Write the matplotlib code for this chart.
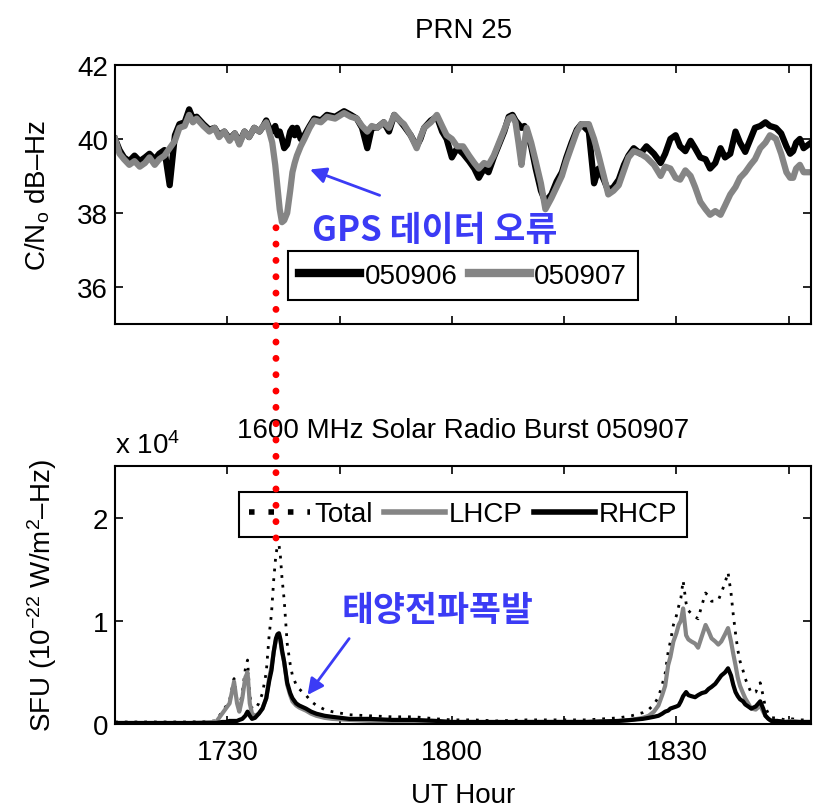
#!/usr/bin/env python

import matplotlib
matplotlib.use("Agg")
import matplotlib.pyplot as plt

# minutes after 17:00 UT
t_cn = [15.0, 15.6, 16.2, 16.9, 17.6, 18.3, 19.0, 19.6, 20.3, 20.9,
	21.6, 22.3, 23.0, 23.6, 24.3, 24.9, 25.4, 25.9, 26.8, 27.6,
	28.3, 28.9, 29.6, 30.3, 31.0, 31.6, 32.3, 32.9, 33.6, 34.3,
	34.8, 35.2, 35.6, 36.0, 36.4, 36.7, 37.0, 37.3, 37.6, 38.0,
	38.4, 38.7, 39.0, 39.3, 39.8, 40.3, 41.0, 41.6, 42.5, 43.3,
	44.4, 45.6, 46.5, 47.3, 48.0, 48.7, 49.3, 50.0, 50.9, 51.6,
	52.3, 53.0, 53.6, 54.5, 55.3, 55.8, 56.3, 57.2, 58.0, 58.7,
	59.3, 60.0, 60.7, 61.5, 62.3, 63.0, 63.6, 64.3, 64.9, 65.6,
	66.3, 67.0, 67.6, 68.1, 68.5, 68.9, 69.3, 69.7, 70.0, 70.6,
	71.2, 71.9, 72.5, 73.3, 74.0, 74.7, 75.3, 76.0, 76.7, 77.3,
	78.3, 79.0, 79.6, 80.3, 80.9, 81.6, 82.3, 83.0, 83.6, 84.3,
	85.2, 86.0, 87.0, 87.9, 88.5, 89.2, 89.9, 90.5, 91.2, 91.9,
	92.5, 93.2, 93.9, 94.5, 95.2, 95.9, 96.5, 97.2, 97.9, 98.5,
	99.2, 99.9, 100.5, 101.2, 101.9, 102.5, 103.3, 104.0, 104.7, 105.2,
	105.6, 106.0, 106.5, 107.0, 108.0]

cn_050906 = [40.0, 39.7, 39.5, 39.4, 39.55, 39.4, 39.5, 39.6, 39.45, 39.6,
	39.7, 38.75, 40.1, 40.4, 40.45, 40.8, 40.55, 40.6, 40.4, 40.25,
	40.3, 40.1, 40.2, 40.0, 40.15, 39.9, 40.2, 40.05, 40.3, 40.2,
	40.35, 40.5, 40.3, 40.2, 40.35, 40.1, 40.2, 40.0, 39.75, 39.85,
	40.2, 40.3, 40.1, 40.3, 40.0, 40.1, 40.35, 40.55, 40.5, 40.65,
	40.6, 40.75, 40.65, 40.55, 40.3, 39.75, 40.3, 40.3, 40.45, 40.2,
	40.65, 40.5, 40.35, 40.1, 39.8, 40.0, 40.3, 40.5, 40.6, 40.2,
	40.0, 39.5, 39.75, 39.6, 39.4, 39.2, 38.95, 39.2, 39.1, 39.5,
	39.85, 40.2, 40.6, 40.65, 40.5, 40.4, 40.3, 40.35, 40.2, 39.8,
	39.2, 38.6, 38.3, 38.5, 38.85, 39.1, 39.5, 39.9, 40.25, 40.4,
	40.2, 38.8, 39.2, 38.9, 38.6, 38.7, 38.9, 39.3, 39.55, 39.75,
	39.6, 39.8, 39.6, 39.35, 39.6, 40.0, 40.1, 39.8, 39.67, 39.95,
	39.75, 39.5, 39.45, 39.2, 39.35, 39.75, 39.5, 39.6, 40.2, 39.9,
	39.65, 40.0, 40.3, 40.35, 40.45, 40.35, 40.3, 40.15, 39.8, 39.6,
	39.67, 39.9, 40.0, 39.75, 39.9]

cn_050907 = [40.0, 39.6, 39.45, 39.3, 39.4, 39.25, 39.35, 39.5, 39.3, 39.45,
	39.55, 39.75, 39.95, 40.3, 40.35, 40.65, 40.45, 40.55, 40.35, 40.2,
	40.3, 40.05, 40.2, 39.95, 40.15, 39.85, 40.2, 40.05, 40.3, 40.2,
	40.35, 40.45, 40.2, 39.9, 39.3, 38.7, 38.1, 37.75, 37.8, 38.0,
	38.6, 39.1, 39.35, 39.55, 39.8, 40.0, 40.3, 40.5, 40.45, 40.6,
	40.55, 40.7, 40.6, 40.55, 40.35, 40.2, 40.35, 40.3, 40.45, 40.3,
	40.65, 40.5, 40.4, 40.1, 39.75, 40.05, 40.3, 40.45, 40.65, 40.35,
	40.1, 40.0, 39.8, 39.8, 39.55, 39.35, 39.2, 39.35, 39.3, 39.55,
	39.9, 40.25, 40.55, 40.6, 40.45, 39.9, 39.3, 39.9, 40.3, 39.9,
	39.4, 38.8, 38.1, 38.4, 38.7, 39.0, 39.4, 39.8, 40.2, 40.4,
	40.4, 40.0, 39.56, 39.0, 38.5, 38.6, 38.75, 39.15, 39.5, 39.67,
	39.6, 39.5, 39.3, 39.0, 39.25, 39.2, 38.95, 38.9, 39.15, 39.0,
	38.7, 38.3, 38.1, 37.95, 38.05, 37.95, 38.2, 38.5, 38.7, 38.95,
	39.1, 39.3, 39.45, 39.75, 39.9, 40.1, 40.0, 39.6, 39.1, 38.95,
	38.95, 39.2, 39.3, 39.1, 39.1]

t_sfu = [15, 20, 25, 28.5, 29.3, 29.8, 30.3, 30.9, 31.3, 31.6,
	32.0, 32.4, 32.7, 33.0, 33.3, 33.7, 34.2, 34.7, 35.2, 35.6,
	35.9, 36.2, 36.5, 36.7, 36.9, 37.1, 37.3, 37.6, 38.0, 38.4,
	38.7, 39.2, 39.6, 40.5, 41.2, 41.9, 43.0, 44.0, 46.3, 49.0,
	52.0, 55.0, 58.0, 60.0, 63.0, 66.0, 70.0, 74.0, 78.0, 82.3,
	84.0, 85.5, 86.3, 87.0, 87.6, 88.1, 88.5, 88.9, 89.2, 89.6,
	90.0, 90.3, 90.6, 90.9, 91.3, 91.6, 92.0, 92.5, 92.9, 93.4,
	93.9, 94.3, 94.7, 95.2, 95.6, 96.0, 96.5, 96.9, 97.3, 97.6,
	97.9, 98.2, 98.5, 98.9, 99.2, 99.6, 100.0, 100.6, 101.2, 101.6,
	101.9, 102.3, 102.7, 103.5, 104.5, 105.5, 106.5, 107.5, 108.0]

# units of 1e4 SFU
lhcp = [0.01, 0.01, 0.01, 0.02, 0.10, 0.15, 0.20, 0.41, 0.20, 0.12,
	0.25, 0.45, 0.50, 0.20, 0.10, 0.08, 0.10, 0.15, 0.25, 0.45,
	0.55, 0.70, 0.82, 0.85, 0.86, 0.80, 0.70, 0.60, 0.38, 0.28,
	0.22, 0.18, 0.16, 0.13, 0.10, 0.08, 0.06, 0.05, 0.04, 0.03,
	0.03, 0.03, 0.02, 0.02, 0.02, 0.01, 0.02, 0.02, 0.02, 0.03,
	0.04, 0.06, 0.08, 0.12, 0.18, 0.28, 0.37, 0.57, 0.65, 0.80,
	0.88, 0.96, 1.00, 1.12, 0.86, 0.82, 0.80, 0.78, 0.74, 0.85,
	0.96, 0.90, 0.83, 0.80, 0.77, 0.80, 0.87, 0.93, 0.80, 0.68,
	0.57, 0.45, 0.37, 0.30, 0.25, 0.20, 0.15, 0.14, 0.18, 0.12,
	0.08, 0.05, 0.03, 0.03, 0.02, 0.03, 0.02, 0.02, 0.02]

rhcp = [0.01, 0.01, 0.01, 0.01, 0.02, 0.02, 0.03, 0.03, 0.03, 0.04,
	0.05, 0.08, 0.12, 0.08, 0.05, 0.06, 0.10, 0.15, 0.25, 0.42,
	0.52, 0.70, 0.83, 0.87, 0.88, 0.82, 0.72, 0.60, 0.40, 0.30,
	0.25, 0.20, 0.18, 0.15, 0.12, 0.10, 0.08, 0.07, 0.05, 0.05,
	0.04, 0.04, 0.03, 0.02, 0.02, 0.02, 0.02, 0.02, 0.02, 0.03,
	0.04, 0.05, 0.06, 0.07, 0.08, 0.10, 0.12, 0.13, 0.15, 0.16,
	0.17, 0.18, 0.22, 0.27, 0.31, 0.28, 0.27, 0.26, 0.28, 0.30,
	0.31, 0.34, 0.36, 0.39, 0.43, 0.47, 0.50, 0.54, 0.47, 0.38,
	0.31, 0.27, 0.24, 0.22, 0.19, 0.17, 0.15, 0.17, 0.22, 0.15,
	0.08, 0.05, 0.03, 0.03, 0.02, 0.02, 0.02, 0.02, 0.02]

xticks = [30, 45, 60, 75, 90, 105]
xticklabels = ["1730", "", "1800", "", "1830", ""]

plt.rcParams["font.family"] = ["Liberation Sans", "DejaVu Sans"]
plt.rcParams["mathtext.fontset"] = "custom"
plt.rcParams["mathtext.rm"] = "Liberation Sans"
plt.rcParams["mathtext.it"] = "Liberation Sans"
plt.rcParams["mathtext.default"] = "regular"
fs = 20

kr = ["Noto Sans CJK KR", "DejaVu Sans"]
blue = "#3b3bf5"
gray = "#858585"

fig = plt.figure(figsize=(8.16, 8.12), dpi=100)
ax1 = fig.add_axes([0.141, 0.5998, 0.853, 0.319])
ax2 = fig.add_axes([0.141, 0.1071, 0.853, 0.3177])

for ax in (ax1, ax2):
	ax.tick_params(direction="in", top=True, right=True, length=6, width=1.2, labelsize=fs)
	ax.tick_params(axis="x", pad=11)
	ax.tick_params(axis="y", pad=5)
	for s in ax.spines.values():
		s.set_linewidth(1.5)
	ax.set_xlim(15, 108)
	ax.set_xticks(xticks)

# top panel
ax1.plot(t_cn, cn_050906, color="black", lw=4.5, label="050906")
ax1.plot(t_cn, cn_050907, color=gray, lw=4.5, label="050907")
ax1.set_ylim(35, 42)
ax1.set_yticks([36, 38, 40, 42])
ax1.set_xticklabels([])
ax1.set_title("PRN 25", fontsize=fs, pad=20)
ax1.set_ylabel("C/N$_o$ dB\u2013Hz", fontsize=fs, labelpad=18)
leg1 = ax1.legend(loc="lower center", bbox_to_anchor=(0.5, 0.04), ncol=2, fancybox=False,
	edgecolor="black", framealpha=1, handlelength=2.2, columnspacing=0.4,
	handletextpad=0.15, borderpad=0.4, fontsize=fs)
leg1.get_frame().set_linewidth(1.5)
for l in leg1.get_lines():
	l.set_linewidth(6)

ax1.annotate("GPS 데이터 오류", xy=(40.7, 39.2), xytext=(41.3, 37.55),
	color=blue, fontsize=25, fontweight="bold", family=kr, va="center", ha="left")
ax1.annotate("", xy=(40.7, 39.2), xytext=(50.7, 38.45),
	arrowprops=dict(arrowstyle="-|>", color=blue, lw=2, mutation_scale=24))

# bottom panel
total = [a + b for a, b in zip(lhcp, rhcp)]
ax2.plot(t_sfu, total, color="black", lw=2, ls=(0, (1, 2.5)), label="Total")
ax2.plot(t_sfu, lhcp, color=gray, lw=3, label="LHCP")
ax2.plot(t_sfu, rhcp, color="black", lw=3, label="RHCP")
ax2.set_ylim(0, 2.5)
ax2.set_yticks([0, 1, 2])
ax2.set_xticklabels(xticklabels)
ax2.set_title("1600 MHz Solar Radio Burst 050907", fontsize=fs, pad=21)
ax2.set_xlabel("UT Hour", fontsize=fs, labelpad=12)
ax2.set_ylabel("SFU (10$^{-22}$ W/m$^2$\u2013Hz)", fontsize=fs, labelpad=24)
ax2.text(0, 1.05, "x 10$^4$", transform=ax2.transAxes, fontsize=fs, ha="left", va="baseline")
leg2 = ax2.legend(loc="upper center", bbox_to_anchor=(0.5, 0.955), ncol=3, fancybox=False,
	edgecolor="black", framealpha=1, handlelength=2.2, columnspacing=0.4,
	handletextpad=0.15, borderpad=0.35, fontsize=fs)
leg2.get_frame().set_linewidth(1.5)
for l in leg2.get_lines():
	l.set_linewidth(4)

ax2.annotate("태양전파폭발", xy=(40.5, 0.26), xytext=(45.3, 1.11),
	color=blue, fontsize=25, fontweight="bold", family=kr, va="center", ha="left")
ax2.annotate("", xy=(40.5, 0.26), xytext=(46.5, 0.85),
	arrowprops=dict(arrowstyle="-|>", color=blue, lw=2, mutation_scale=24))

# red dotted marker joining the GPS dip and the burst peak
ax2.annotate("", xy=(36.5, 1.72), xycoords="data", xytext=(36.5, 37.6), textcoords=ax1.transData,
	arrowprops=dict(arrowstyle="-", color="red", lw=5, linestyle=(0, (0.001, 2.35)),
		capstyle="round", shrinkA=0, shrinkB=0),
	annotation_clip=False, zorder=10)

plt.savefig("out.png", dpi=100)
